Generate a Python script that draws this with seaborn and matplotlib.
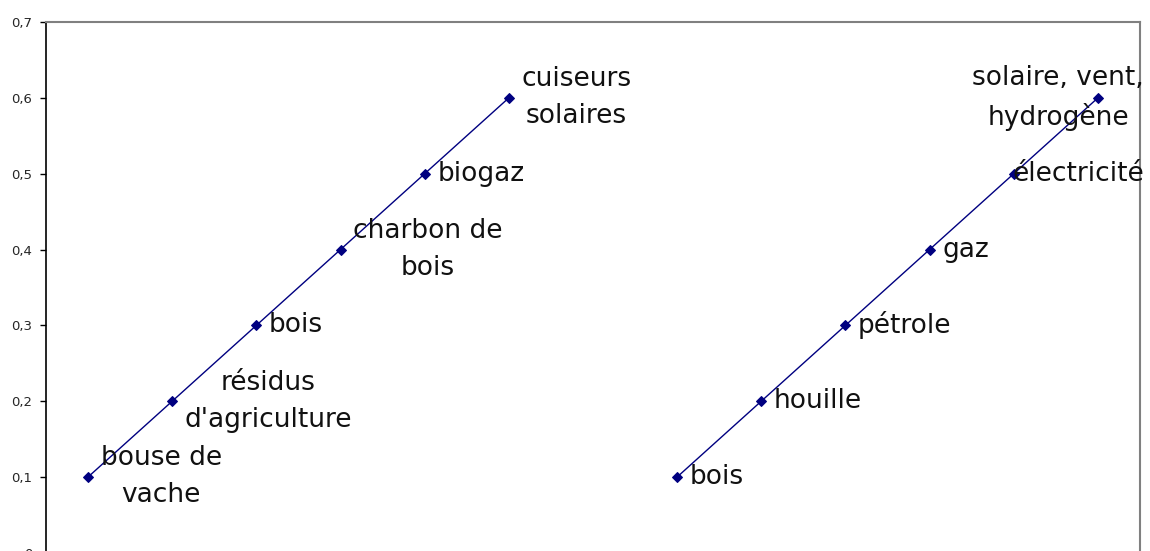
import matplotlib
matplotlib.use("Agg")
import matplotlib.pyplot as plt
import matplotlib.ticker as mticker
import seaborn as sns
import pandas as pd

# left ladder: traditional fuels, right ladder: modern fuels
left_x = [1, 2, 3, 4, 5, 6]
left_values = [0.1, 0.2, 0.3, 0.4, 0.5, 0.6]
left_labels = ["bouse de\nvache", "résidus\nd'agriculture", "bois",
               "charbon de\nbois", "biogaz", "cuiseurs\nsolaires"]

right_x = [8, 9, 10, 11, 12, 13]
right_values = [0.1, 0.2, 0.3, 0.4, 0.5, 0.6]
right_labels = ["bois", "houille", "pétrole", "gaz", "électricité",
                "solaire, vent,\nhydrogène"]

y_ticks = [0, 0.1, 0.2, 0.3, 0.4, 0.5, 0.6, 0.7]

df = pd.concat([
    pd.DataFrame({"x": left_x, "y": left_values, "label": left_labels, "serie": "gauche"}),
    pd.DataFrame({"x": right_x, "y": right_values, "label": right_labels, "serie": "droite"}),
], ignore_index=True)

sns.set_style("white")
plt.rcParams["font.family"] = ["DejaVu Sans"]

fig = plt.figure(figsize=(11.5, 5.51), dpi=100)
ax = fig.add_axes([0.04, -0.0033, 0.9513, 0.9633])

navy = "#000080"
for serie in ["gauche", "droite"]:
    sns.lineplot(data=df[df["serie"] == serie], x="x", y="y", ax=ax,
                 color=navy, linewidth=1.0, marker="D", markersize=5,
                 markeredgecolor=navy, markerfacecolor=navy)

# data labels to the right of each point
label_kw = dict(fontsize=19, va="center", multialignment="center", color="#111111",
                linespacing=1.55)
for _, row in df.iterrows():
    if row["label"] in ("électricité", "solaire, vent,\nhydrogène"):
        # Excel pushes these labels back inside the plot area
        ax.annotate(row["label"], xy=(1.0, row["y"]), xycoords=("axes fraction", "data"),
                    xytext=(3, 0), textcoords="offset points", ha="right", **label_kw)
    else:
        ax.annotate(row["label"], xy=(row["x"], row["y"]),
                    xytext=(9, 0), textcoords="offset points", ha="left", **label_kw)

ax.set_xlim(0.5, 13.5)
ax.set_ylim(0, 0.7)
ax.set_yticks(y_ticks)
ax.yaxis.set_major_formatter(mticker.FuncFormatter(lambda v, p: f"{v:g}".replace(".", ",")))
ax.set_xticks([])
ax.set_xlabel("")
ax.set_ylabel("")
ax.tick_params(axis="y", direction="out", length=4, width=1, color="black",
               labelsize=9.5, pad=6, left=True)

ax.spines["left"].set_color("black")
ax.spines["left"].set_linewidth(1.2)
ax.spines["bottom"].set_color("black")
for side in ["top", "right"]:
    ax.spines[side].set_color("#808080")
    ax.spines[side].set_linewidth(1.5)

fig.savefig("out.png", dpi=100)
